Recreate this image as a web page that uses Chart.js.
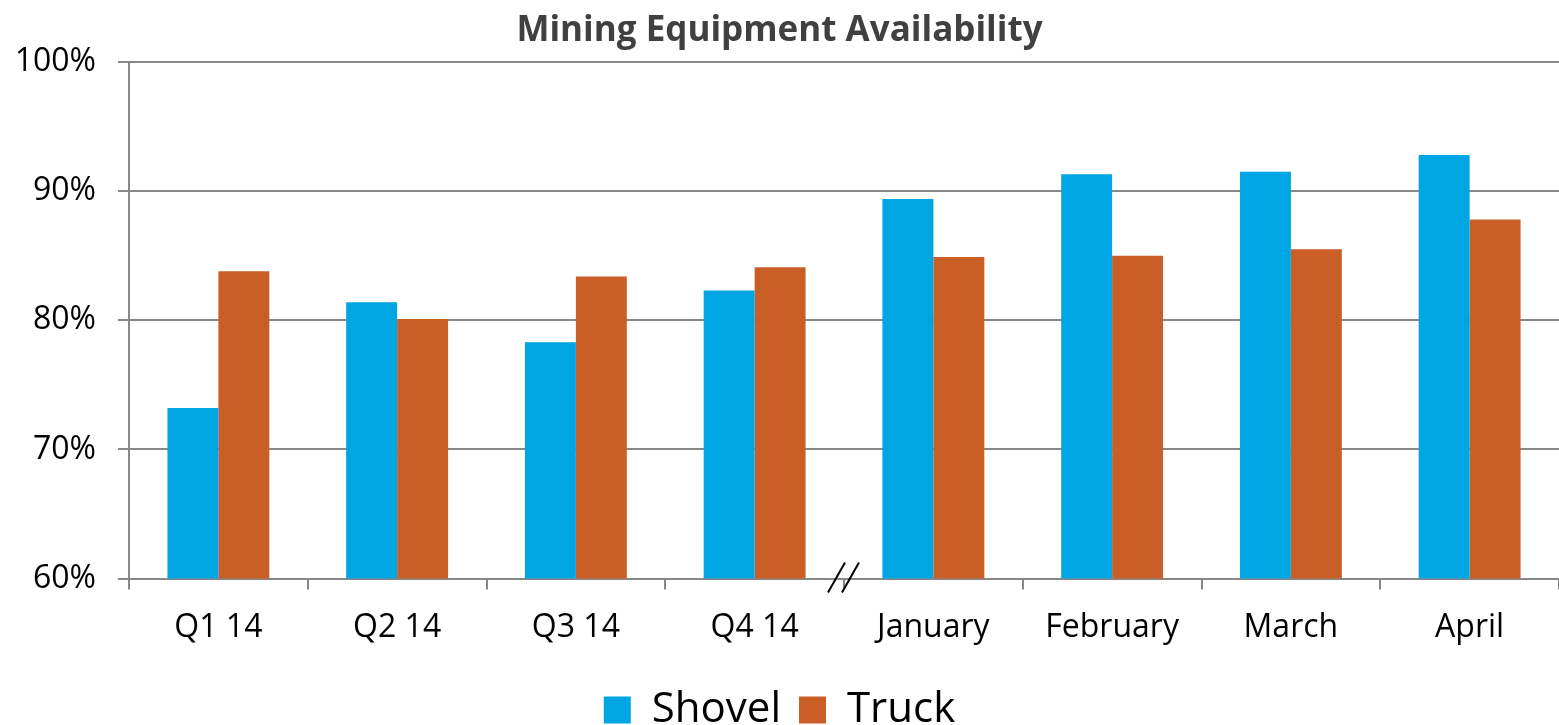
<!DOCTYPE html>
<html>
<head>
<meta charset="utf-8">
<script src="https://cdn.jsdelivr.net/npm/chart.js@4.4.1/dist/chart.umd.min.js"></script>
<style>
  html, body { margin: 0; padding: 0; background: #fff; }
  #wrap { width: 1559px; height: 725px; }
</style>
</head>
<body>
<div id="wrap"><canvas id="chart"></canvas></div>
<script>
const categories = ["Q1 14", "Q2 14", "Q3 14", "Q4 14", "January", "February", "March", "April"];
const shovel = [73.2, 81.4, 78.3, 82.3, 89.4, 91.3, 91.5, 92.8];
const truck = [83.8, 80.1, 83.4, 84.1, 84.9, 85.0, 85.5, 87.8];
const yTicks = [60, 70, 80, 90, 100];

const FONT = "'Open Sans', Lato, 'Liberation Sans', sans-serif";

// draws the "//" axis break between the quarters and the months
const axisBreak = {
  id: "axisBreak",
  afterDraw(chart) {
    const x = chart.scales.x;
    const ctx = chart.ctx;
    const bx = (x.getPixelForValue(3) + x.getPixelForValue(4)) / 2;
    const by = chart.chartArea.bottom;
    ctx.save();
    ctx.strokeStyle = "#000";
    ctx.lineWidth = 2;
    [-7, 7].forEach(dx => {
      ctx.beginPath();
      ctx.moveTo(bx + dx - 9, by + 14);
      ctx.lineTo(bx + dx + 8, by - 16);
      ctx.stroke();
    });
    ctx.restore();
  }
};

new Chart(document.getElementById("chart"), {
  type: "bar",
  data: {
    labels: categories,
    datasets: [
      { label: "Shovel", data: shovel, backgroundColor: "#00A5E3" },
      { label: "Truck", data: truck, backgroundColor: "#C95E27" }
    ]
  },
  options: {
    responsive: true,
    maintainAspectRatio: false,
    animation: false,
    layout: { padding: { left: 0, right: 0, top: 0, bottom: -16 } },
    datasets: { bar: { categoryPercentage: 0.57, barPercentage: 1 } },
    plugins: {
      title: {
        display: true,
        text: "Mining Equipment Availability",
        color: "#404040",
        font: { family: FONT, size: 35, weight: "bold" },
        padding: { top: 10, bottom: 10 }
      },
      legend: {
        position: "bottom",
        labels: {
          color: "#000",
          font: { family: FONT, size: 42 },
          boxWidth: 27,
          boxHeight: 27,
          padding: 18
        }
      },
      tooltip: { enabled: false }
    },
    scales: {
      x: {
        afterFit: s => { s.height += 5; },
        grid: { display: true, drawOnChartArea: false, color: "#888", lineWidth: 2, tickLength: 11, offset: true },
        border: { color: "#888", width: 2 },
        ticks: { color: "#000", font: { family: FONT, size: 32 }, padding: 19 }
      },
      y: {
        min: 60,
        max: 100,
        afterFit: s => { s.width = 129; },
        afterBuildTicks: s => { s.ticks = yTicks.map(v => ({ value: v })); },
        grid: { color: "#888", lineWidth: 2, tickLength: 11 },
        border: { color: "#888", width: 2 },
        ticks: {
          color: "#000",
          font: { family: FONT, size: 32 },
          padding: 22,
          callback: v => v + "%"
        }
      }
    }
  },
  plugins: [axisBreak]
});
</script>
</body>
</html>
